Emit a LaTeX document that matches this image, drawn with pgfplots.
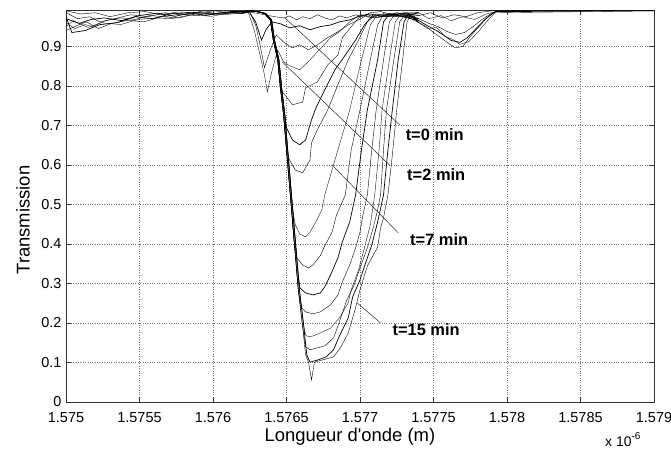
\documentclass[border=0pt]{standalone}
\usepackage{pgfplots}
\pgfplotsset{compat=1.18}
\usepackage{fontspec}
\setmainfont{Liberation Sans}
\begin{document}
\begin{tikzpicture}
\path[use as bounding box] (-66bp,-48bp) rectangle (605bp,402bp);
\begin{axis}[
  at={(0,0)}, anchor=south west,
  scale only axis, width=588bp, height=392bp,
  xmin=1.575, xmax=1.579, ymin=0, ymax=0.992,
  xtick={1.575,1.5755,1.576,1.5765,1.577,1.5775,1.578,1.5785,1.579},
  xticklabels={1.575,1.5755,1.576,1.5765,1.577,1.5775,1.578,1.5785,1.579},
  ytick={0,0.1,0.2,0.3,0.4,0.5,0.6,0.7,0.8,0.9},
  yticklabels={0,0.1,0.2,0.3,0.4,0.5,0.6,0.7,0.8,0.9},
  scaled x ticks=false, scaled y ticks=false,
  /pgf/number format/assume math mode=true,
  tick align=inside, major tick length=5bp,
  grid=major, grid style={dotted, black!55, line width=0.6pt},
  axis line style={black!80, line width=0.7pt},
  tick style={black!80, line width=0.6pt},
  ticklabel style={font=\fontsize{14.5}{14.5}\selectfont},
  xticklabel style={yshift=-7bp},
  yticklabel style={xshift=-1bp},
  xlabel={Longueur d\textquotesingle{}onde (m)}, ylabel={Transmission},
  label style={font=\fontsize{18.5}{18.5}\selectfont},
  xlabel style={at={(axis description cs:0.483,-0.089)}, anchor=center},
  ylabel style={at={(axis description cs:-0.073,0.464)}, anchor=center},
  cycle list={{black!90, solid, line width=0.7pt, mark=none}},
]
% ---- left (flat) parts ----
\addplot coordinates {(1.57500,0.960) (1.57506,0.945) (1.57513,0.955) (1.57518,0.950) (1.57527,0.965) (1.57537,0.972) (1.57547,0.968) (1.57557,0.978) (1.57567,0.975) (1.57578,0.982) (1.57588,0.978) (1.57598,0.985) (1.57608,0.980) (1.57620,0.985)};
\addplot coordinates {(1.57500,0.985) (1.57508,0.970) (1.57516,0.975) (1.57523,0.962) (1.57533,0.970) (1.57544,0.980) (1.57556,0.975) (1.57567,0.985) (1.57581,0.980) (1.57591,0.988) (1.57605,0.982) (1.57620,0.988)};
\addplot coordinates {(1.57500,0.975) (1.57504,0.935) (1.57513,0.940) (1.57523,0.955) (1.57535,0.960) (1.57547,0.975) (1.57559,0.970) (1.57571,0.982) (1.57584,0.985) (1.57595,0.978) (1.57608,0.987) (1.57620,0.983)};
\addplot coordinates {(1.57500,0.990) (1.57510,0.982) (1.57520,0.985) (1.57530,0.975) (1.57542,0.985) (1.57554,0.988) (1.57564,0.980) (1.57576,0.987) (1.57590,0.985) (1.57601,0.990) (1.57612,0.984) (1.57620,0.986)};
\addplot coordinates {(1.57500,0.950) (1.57505,0.965) (1.57515,0.948) (1.57524,0.960) (1.57537,0.955) (1.57549,0.968) (1.57561,0.972) (1.57572,0.970) (1.57585,0.980) (1.57599,0.976) (1.57611,0.985) (1.57620,0.984)};
\addplot coordinates {(1.57500,0.940) (1.57507,0.952) (1.57514,0.962) (1.57522,0.945) (1.57531,0.958) (1.57542,0.966) (1.57553,0.962) (1.57565,0.975) (1.57577,0.972) (1.57589,0.983) (1.57602,0.980) (1.57620,0.988)};
\addplot coordinates {(1.57500,0.970) (1.57509,0.958) (1.57517,0.968) (1.57526,0.972) (1.57538,0.965) (1.57550,0.978) (1.57562,0.984) (1.57574,0.976) (1.57587,0.986) (1.57600,0.982) (1.57612,0.988) (1.57620,0.988)};
% ---- right (flat / shoulder) parts ----
\addplot coordinates {(1.57740,0.978) (1.57748,0.985) (1.57756,0.972) (1.57764,0.980) (1.57772,0.975) (1.57780,0.985) (1.57790,0.990) (1.57900,0.990)};
\addplot coordinates {(1.57740,0.985) (1.57747,0.970) (1.57755,0.978) (1.57762,0.965) (1.57770,0.975) (1.57778,0.968) (1.57786,0.982) (1.57795,0.990) (1.57900,0.990)};
\addplot coordinates {(1.57740,0.970) (1.57747,0.958) (1.57753,0.950) (1.57759,0.938) (1.57765,0.930) (1.57771,0.935) (1.57777,0.950) (1.57783,0.968) (1.57790,0.985) (1.57797,0.990) (1.57900,0.990)};
\addplot coordinates {(1.57740,0.965) (1.57746,0.952) (1.57752,0.940) (1.57757,0.928) (1.57762,0.915) (1.57768,0.910) (1.57773,0.922) (1.57779,0.945) (1.57785,0.968) (1.57792,0.988) (1.57900,0.990)};
\addplot coordinates {(1.57740,0.960) (1.57745,0.950) (1.57750,0.935) (1.57755,0.922) (1.57760,0.908) (1.57765,0.896) (1.57770,0.900) (1.57775,0.925) (1.57781,0.950) (1.57787,0.975) (1.57793,0.990) (1.57900,0.990)};
\addplot coordinates {(1.57740,0.960) (1.57746,0.945) (1.57752,0.948) (1.57758,0.925) (1.57763,0.918) (1.57768,0.905) (1.57774,0.912) (1.57780,0.935) (1.57786,0.962) (1.57792,0.985) (1.57900,0.990)};
% ---- dips ----
% t=0
\addplot coordinates {(1.57620,0.986) (1.57625,0.987) (1.57635,0.980) (1.57642,0.975) (1.57648,0.972) (1.57652,0.977) (1.57657,0.967) (1.57661,0.975) (1.57666,0.970) (1.57671,0.980) (1.57676,0.972) (1.57681,0.967) (1.57686,0.977) (1.57691,0.972) (1.57697,0.980) (1.57701,0.975) (1.57707,0.985) (1.57714,0.988) (1.57722,0.980) (1.57730,0.985) (1.57740,0.978)};
\addplot coordinates {(1.57620,0.985) (1.57625,0.985) (1.57629,0.962) (1.57633,0.916) (1.57636,0.942) (1.57640,0.962) (1.57646,0.957) (1.57652,0.947) (1.57659,0.952) (1.57666,0.942) (1.57673,0.950) (1.57680,0.954) (1.57686,0.962) (1.57693,0.967) (1.57700,0.977) (1.57707,0.982) (1.57715,0.975) (1.57725,0.985) (1.57732,0.978) (1.57740,0.985)};
\addplot coordinates {(1.57620,0.988) (1.57625,0.987) (1.57629,0.954) (1.57632,0.904) (1.57635,0.846) (1.57639,0.891) (1.57643,0.929) (1.57648,0.911) (1.57654,0.896) (1.57659,0.904) (1.57665,0.891) (1.57671,0.904) (1.57678,0.922) (1.57685,0.937) (1.57692,0.954) (1.57699,0.967) (1.57705,0.980) (1.57712,0.972) (1.57720,0.984) (1.57730,0.975) (1.57740,0.978)};
% t=2
\addplot coordinates {(1.57620,0.983) (1.57624,0.987) (1.57628,0.942) (1.57632,0.878) (1.57635,0.828) (1.57637,0.785) (1.57640,0.836) (1.57644,0.891) (1.57648,0.861) (1.57652,0.851) (1.57659,0.841) (1.57664,0.858) (1.57671,0.886) (1.57680,0.922) (1.57686,0.937) (1.57693,0.962) (1.57700,0.980) (1.57708,0.972) (1.57716,0.983) (1.57726,0.975) (1.57740,0.985)};
\addplot coordinates {(1.57620,0.984) (1.57625,0.990) (1.57631,0.987) (1.57635,0.983) (1.57639,0.967) (1.57641,0.916) (1.57644,0.866) (1.57646,0.790) (1.57649,0.777) (1.57654,0.752) (1.57661,0.759) (1.57663,0.795) (1.57671,0.810) (1.57678,0.853) (1.57685,0.878) (1.57688,0.922) (1.57695,0.954) (1.57701,0.980) (1.57710,0.972) (1.57720,0.982) (1.57730,0.975) (1.57740,0.970)};
\addplot coordinates {(1.57620,0.986) (1.576258,0.990) (1.576318,0.987) (1.576358,0.983) (1.576398,0.967) (1.576418,0.916) (1.576448,0.866) (1.576468,0.790) (1.576488,0.727) (1.57650,0.694) (1.57654,0.663) (1.57659,0.651) (1.57663,0.663) (1.57665,0.689) (1.57667,0.714) (1.57670,0.744) (1.57676,0.790) (1.57683,0.841) (1.57690,0.878) (1.57697,0.916) (1.57703,0.954) (1.57709,0.980) (1.57718,0.975) (1.57728,0.984) (1.57740,0.985)};
\addplot coordinates {(1.57620,0.988) (1.57625,0.990) (1.57631,0.987) (1.57635,0.983) (1.57639,0.967) (1.57641,0.916) (1.57644,0.866) (1.57646,0.790) (1.57648,0.727) (1.57650,0.638) (1.57652,0.613) (1.57656,0.587) (1.57661,0.580) (1.57666,0.613) (1.57667,0.656) (1.57671,0.689) (1.57678,0.739) (1.57685,0.803) (1.57692,0.866) (1.57699,0.916) (1.57705,0.962) (1.57711,0.982) (1.57720,0.975) (1.57730,0.980) (1.57740,0.970)};
% t=7
\addplot coordinates {(1.57620,0.988) (1.576258,0.990) (1.576318,0.987) (1.576358,0.983) (1.576398,0.967) (1.576418,0.916) (1.576448,0.866) (1.576468,0.790) (1.576488,0.727) (1.576508,0.638) (1.576528,0.549) (1.57654,0.490) (1.57656,0.448) (1.57659,0.425) (1.57663,0.418) (1.57666,0.430) (1.57670,0.456) (1.57674,0.486) (1.57676,0.524) (1.57683,0.613) (1.57693,0.739) (1.57697,0.803) (1.57701,0.866) (1.57707,0.954) (1.57712,0.982) (1.57720,0.976) (1.57730,0.984) (1.57740,0.970)};
\addplot coordinates {(1.57620,0.985) (1.57625,0.990) (1.57631,0.987) (1.57635,0.983) (1.57639,0.967) (1.57641,0.916) (1.57644,0.866) (1.57646,0.790) (1.57648,0.727) (1.57650,0.638) (1.57652,0.549) (1.57654,0.461) (1.57655,0.410) (1.57657,0.365) (1.57661,0.347) (1.57665,0.339) (1.57668,0.347) (1.57673,0.370) (1.57676,0.395) (1.57681,0.430) (1.57684,0.473) (1.57690,0.524) (1.57694,0.638) (1.57700,0.739) (1.57707,0.866) (1.57712,0.954) (1.57716,0.982) (1.57724,0.975) (1.57732,0.985) (1.57740,0.965)};
\addplot coordinates {(1.57620,0.988) (1.576258,0.990) (1.576318,0.987) (1.576358,0.983) (1.576398,0.967) (1.576418,0.916) (1.576448,0.866) (1.576468,0.790) (1.576488,0.727) (1.576508,0.638) (1.576528,0.549) (1.576548,0.461) (1.576568,0.372) (1.576578,0.330) (1.57659,0.289) (1.57663,0.276) (1.57668,0.271) (1.57673,0.276) (1.57676,0.291) (1.57680,0.322) (1.57685,0.365) (1.57688,0.405) (1.57693,0.456) (1.57697,0.524) (1.57701,0.638) (1.57705,0.739) (1.57712,0.866) (1.57716,0.962) (1.57720,0.982) (1.57728,0.976) (1.57740,0.965)};
\addplot coordinates {(1.57620,0.983) (1.57625,0.990) (1.57631,0.987) (1.57635,0.983) (1.57639,0.967) (1.57641,0.916) (1.57644,0.866) (1.57646,0.790) (1.57648,0.727) (1.57650,0.638) (1.57652,0.549) (1.57654,0.461) (1.57656,0.372) (1.57658,0.284) (1.57660,0.240) (1.57663,0.228) (1.57668,0.223) (1.57673,0.228) (1.57680,0.246) (1.57685,0.271) (1.57688,0.304) (1.57693,0.347) (1.57697,0.390) (1.57700,0.430) (1.57702,0.473) (1.57705,0.524) (1.57708,0.638) (1.57711,0.739) (1.57716,0.866) (1.57720,0.962) (1.57724,0.982) (1.57732,0.975) (1.57740,0.960)};
\addplot coordinates {(1.57620,0.984) (1.576258,0.990) (1.576318,0.987) (1.576358,0.983) (1.576398,0.967) (1.576418,0.916) (1.576448,0.866) (1.576468,0.790) (1.576488,0.727) (1.576508,0.638) (1.576528,0.549) (1.576548,0.461) (1.576568,0.372) (1.576588,0.284) (1.576618,0.190) (1.57663,0.170) (1.57665,0.165) (1.57668,0.167) (1.57673,0.175) (1.57680,0.187) (1.57686,0.213) (1.57692,0.251) (1.57694,0.284) (1.57699,0.334) (1.57703,0.390) (1.57707,0.448) (1.57710,0.524) (1.57713,0.638) (1.57715,0.739) (1.57720,0.866) (1.57724,0.962) (1.57728,0.982) (1.57734,0.975) (1.57740,0.965)};
\addplot coordinates {(1.57620,0.988) (1.57625,0.990) (1.57631,0.987) (1.57635,0.983) (1.57639,0.967) (1.57641,0.916) (1.57644,0.866) (1.57646,0.790) (1.57648,0.727) (1.57650,0.638) (1.57652,0.549) (1.57654,0.461) (1.57656,0.372) (1.57658,0.284) (1.57661,0.190) (1.57663,0.140) (1.57666,0.132) (1.57671,0.137) (1.57676,0.142) (1.57682,0.162) (1.57686,0.203) (1.57691,0.258) (1.57696,0.296) (1.57700,0.339) (1.57705,0.390) (1.57709,0.441) (1.57712,0.486) (1.57714,0.524) (1.57716,0.638) (1.57718,0.739) (1.57723,0.866) (1.57727,0.962) (1.57731,0.982) (1.57736,0.975) (1.57740,0.960)};
\addplot coordinates {(1.57620,0.988) (1.576258,0.990) (1.576318,0.987) (1.576358,0.983) (1.576398,0.967) (1.576418,0.916) (1.576448,0.866) (1.576468,0.790) (1.576488,0.727) (1.576508,0.638) (1.576528,0.549) (1.576548,0.461) (1.576568,0.372) (1.576588,0.284) (1.576618,0.190) (1.576638,0.119) (1.57666,0.101) (1.57671,0.106) (1.57677,0.114) (1.57682,0.132) (1.57686,0.167) (1.57692,0.213) (1.57695,0.266) (1.57700,0.309) (1.57704,0.354) (1.57708,0.397) (1.57712,0.456) (1.57716,0.524) (1.57719,0.638) (1.57722,0.739) (1.57726,0.866) (1.57730,0.962) (1.57733,0.982) (1.57740,0.960)};
% t=15
\addplot coordinates {(1.57620,0.986) (1.57625,0.990) (1.57631,0.987) (1.57635,0.983) (1.57639,0.967) (1.57641,0.916) (1.57644,0.866) (1.57646,0.790) (1.57648,0.727) (1.57650,0.638) (1.57652,0.549) (1.57654,0.461) (1.57656,0.372) (1.57658,0.284) (1.57661,0.190) (1.57663,0.119) (1.57665,0.101) (1.57667,0.056) (1.57669,0.101) (1.57674,0.106) (1.57682,0.114) (1.57687,0.139) (1.57692,0.175) (1.57697,0.238) (1.57700,0.284) (1.57705,0.344) (1.57712,0.392) (1.57714,0.441) (1.57716,0.466) (1.57719,0.524) (1.57722,0.625) (1.57725,0.739) (1.57729,0.866) (1.57732,0.962) (1.57735,0.982) (1.57740,0.965)};
% ---- annotations ----
\draw[black!85, line width=0.5pt] (axis cs:1.57649,0.972) -- (axis cs:1.57727,0.701);
\draw[black!85, line width=0.5pt] (axis cs:1.57647,0.861) -- (axis cs:1.57720,0.600);
\draw[black!85, line width=0.5pt] (axis cs:1.57681,0.600) -- (axis cs:1.57726,0.428);
\draw[black!85, line width=0.5pt] (axis cs:1.57698,0.251) -- (axis cs:1.57714,0.200);
\node[anchor=west, inner sep=0pt, font=\bfseries\fontsize{16.5}{16.5}\selectfont] at (axis cs:1.57731,0.676) {t=0 min};
\node[anchor=west, inner sep=0pt, font=\bfseries\fontsize{16.5}{16.5}\selectfont] at (axis cs:1.57732,0.575) {t=2 min};
\node[anchor=west, inner sep=0pt, font=\bfseries\fontsize{16.5}{16.5}\selectfont] at (axis cs:1.57734,0.410) {t=7 min};
\node[anchor=west, inner sep=0pt, font=\bfseries\fontsize{16.5}{16.5}\selectfont] at (axis cs:1.57722,0.182) {t=15 min};
\end{axis}
\node[anchor=west, inner sep=0pt, font=\fontsize{14}{14}\selectfont] at (539bp,-38bp) {x 10\raisebox{0.5em}{\fontsize{10}{10}\selectfont -6}};
\end{tikzpicture}
\end{document}
